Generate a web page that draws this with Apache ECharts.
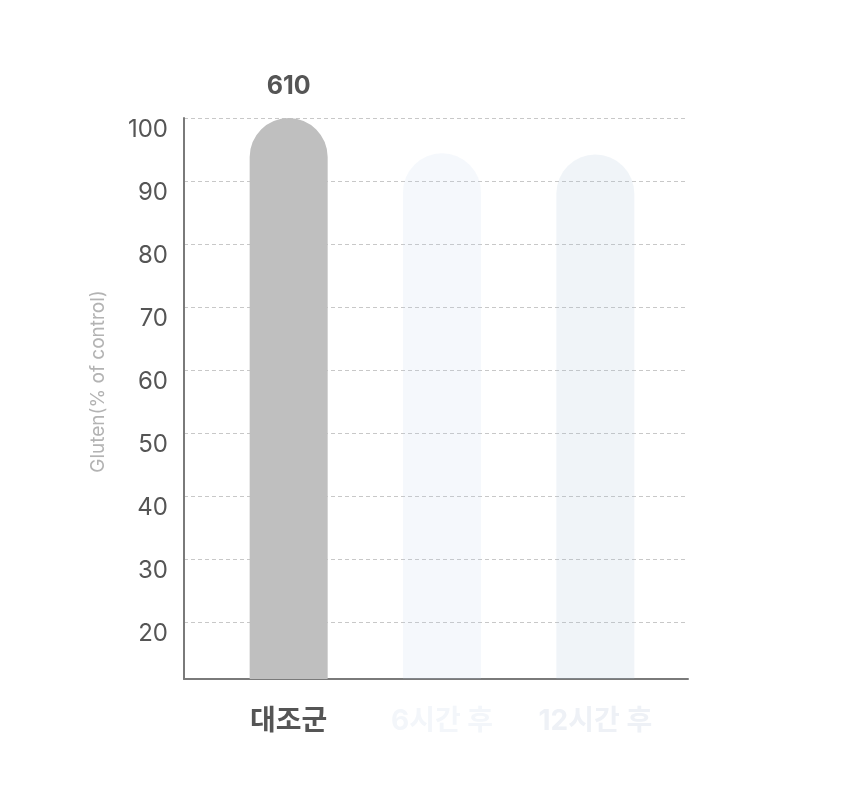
<!DOCTYPE html>
<html>
<head>
<meta charset="utf-8">
<script src="https://cdn.jsdelivr.net/npm/echarts@6/dist/echarts.min.js"></script>
<style>
html,body{margin:0;padding:0;background:#fff;}
#chart{width:860px;height:800px;}
</style>
</head>
<body>
<div id="chart"></div>
<script>
var categories = ['대조군', '6시간 후', '12시간 후'];
var values = [100, 94.4, 94.2];
var barLabels = ['610', '', ''];
var barColors = ['#bfbfbf', '#bcd0ea', '#a8bcd6'];
var barOpacity = [1, 0.15, 0.17];
var categoryColors = ['#555555', '#f3f6fa', '#eef1f6'];
var yName = 'Gluten(% of control)';
var yMin = 11, yMax = 100;

var chart = echarts.init(document.getElementById('chart'));
var font = 'Inter, "Noto Sans CJK KR", sans-serif';
chart.setOption({
  animation: false,
  grid: [
    {left: 184, right: 172, top: 118, bottom: 121},
    {left: 212, right: 188, top: 118, bottom: 121}
  ],
  xAxis: [{
    type: 'category',
    gridIndex: 0,
    data: categories,
    axisLine: {lineStyle: {color: '#7a7a7a', width: 2}},
    axisTick: {show: false},
    axisLabel: {show: false}
  }, {
    type: 'category',
    gridIndex: 1,
    data: categories,
    axisLine: {show: false},
    axisTick: {show: false},
    axisLabel: {
      margin: 29,
      fontSize: 28,
      fontWeight: 'bold',
      fontFamily: font,
      color: function (v, i) { return categoryColors[i]; }
    }
  }],
  yAxis: [{
    type: 'value',
    gridIndex: 0,
    min: yMin,
    max: yMax,
    splitNumber: 9,
    name: yName,
    nameLocation: 'middle',
    nameGap: 76,
    nameTextStyle: {color: '#b3b3b3', fontSize: 19, fontFamily: font, padding: [0, 0, 0, 34]},
    axisLine: {show: true, lineStyle: {color: '#7a7a7a', width: 2}},
    axisTick: {show: false},
    axisLabel: {
      showMinLabel: false,
      margin: 16,
      fontSize: 24,
      fontFamily: font,
      color: '#555555',
      verticalAlign: 'top'
    },
    splitLine: {lineStyle: {color: '#c8c8c8', type: [4, 3], width: 1}}
  }, {
    type: 'value',
    gridIndex: 1,
    min: yMin,
    max: yMax,
    splitNumber: 9,
    show: false,
    splitLine: {show: false}
  }],
  series: [{
    type: 'bar',
    xAxisIndex: 1,
    yAxisIndex: 1,
    barWidth: 78,
    data: values.map(function (v, i) {
      return {value: v, itemStyle: {color: barColors[i], opacity: barOpacity[i], borderRadius: [39, 39, 0, 0]}};
    }),
    label: {
      show: true,
      position: 'top',
      distance: 19,
      fontSize: 25,
      fontWeight: 'bold',
      fontFamily: font,
      color: '#555555',
      formatter: function (p) { return barLabels[p.dataIndex]; }
    }
  }]
});
</script>
</body>
</html>
